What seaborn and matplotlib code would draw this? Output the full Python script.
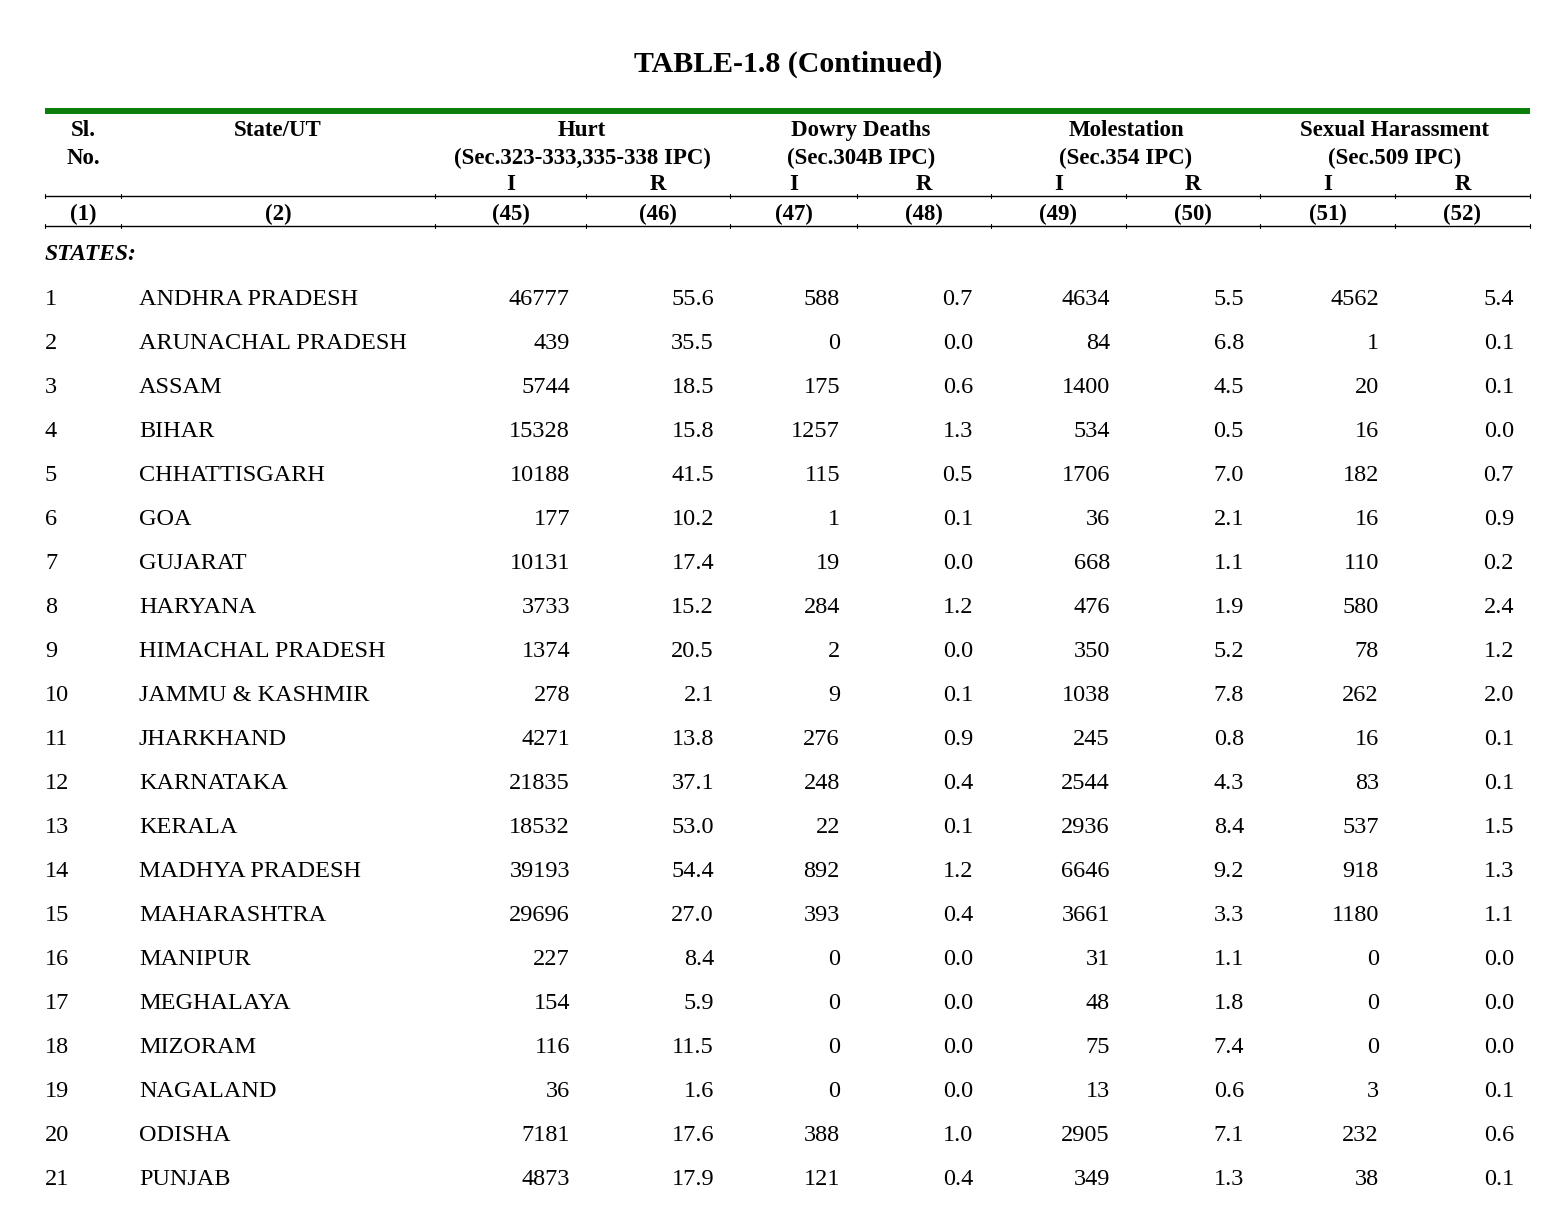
import numpy as np
import pandas as pd
import matplotlib
matplotlib.use("Agg")
import matplotlib.pyplot as plt
import seaborn as sns

title = "TABLE-1.8 (Continued)"
sl_no = list(range(1, 22))
states = ["ANDHRA PRADESH", "ARUNACHAL PRADESH", "ASSAM", "BIHAR", "CHHATTISGARH",
          "GOA", "GUJARAT", "HARYANA", "HIMACHAL PRADESH", "JAMMU & KASHMIR",
          "JHARKHAND", "KARNATAKA", "KERALA", "MADHYA PRADESH", "MAHARASHTRA",
          "MANIPUR", "MEGHALAYA", "MIZORAM", "NAGALAND", "ODISHA", "PUNJAB"]
hurt_i = [46777, 439, 5744, 15328, 10188, 177, 10131, 3733, 1374, 278, 4271,
          21835, 18532, 39193, 29696, 227, 154, 116, 36, 7181, 4873]
hurt_r = [55.6, 35.5, 18.5, 15.8, 41.5, 10.2, 17.4, 15.2, 20.5, 2.1, 13.8,
          37.1, 53.0, 54.4, 27.0, 8.4, 5.9, 11.5, 1.6, 17.6, 17.9]
dowry_i = [588, 0, 175, 1257, 115, 1, 19, 284, 2, 9, 276,
           248, 22, 892, 393, 0, 0, 0, 0, 388, 121]
dowry_r = [0.7, 0.0, 0.6, 1.3, 0.5, 0.1, 0.0, 1.2, 0.0, 0.1, 0.9,
           0.4, 0.1, 1.2, 0.4, 0.0, 0.0, 0.0, 0.0, 1.0, 0.4]
molest_i = [4634, 84, 1400, 534, 1706, 36, 668, 476, 350, 1038, 245,
            2544, 2936, 6646, 3661, 31, 48, 75, 13, 2905, 349]
molest_r = [5.5, 6.8, 4.5, 0.5, 7.0, 2.1, 1.1, 1.9, 5.2, 7.8, 0.8,
            4.3, 8.4, 9.2, 3.3, 1.1, 1.8, 7.4, 0.6, 7.1, 1.3]
harass_i = [4562, 1, 20, 16, 182, 16, 110, 580, 78, 262, 16,
            83, 537, 918, 1180, 0, 0, 0, 3, 232, 38]
harass_r = [5.4, 0.1, 0.1, 0.0, 0.7, 0.9, 0.2, 2.4, 1.2, 2.0, 0.1,
            0.1, 1.5, 1.3, 1.1, 0.0, 0.0, 0.0, 0.1, 0.6, 0.1]

groups = ["Hurt", "Dowry Deaths", "Molestation", "Sexual Harassment"]
sections = ["(Sec.323-333,335-338 IPC)", "(Sec.304B IPC)", "(Sec.354 IPC)", "(Sec.509 IPC)"]
col_nums = ["(1)", "(2)", "(45)", "(46)", "(47)", "(48)", "(49)", "(50)", "(51)", "(52)"]

df = pd.DataFrame({"sl": sl_no, "state": states,
                   "hurt_i": hurt_i, "hurt_r": hurt_r,
                   "dowry_i": dowry_i, "dowry_r": dowry_r,
                   "molest_i": molest_i, "molest_r": molest_r,
                   "harass_i": harass_i, "harass_r": harass_r})
num_cols = ["hurt_i", "hurt_r", "dowry_i", "dowry_r",
            "molest_i", "molest_r", "harass_i", "harass_r"]

sns.set_theme(style="white")
plt.rcParams['font.family'] = ['Liberation Serif', 'DejaVu Serif']
plt.rcParams['text.color'] = 'black'

fig = plt.figure(figsize=(15.68, 12.06), dpi=100)
ax = fig.add_axes([0, 0, 1, 1])
ax.set_xlim(0, 1568)
ax.set_ylim(1206, 0)
ax.axis("off")

# column layout (pixels)
bounds = [45, 121, 435, 586, 730, 857, 991, 1126, 1260, 1395, 1530]
centers = [(a + b) / 2 for a, b in zip(bounds[:-1], bounds[1:])]
right_edges = [570, 714, 840, 973, 1110, 1244, 1379, 1514]
group_x = [582, 861, 1126, 1395]

hdr = dict(fontsize=16.5, fontweight="bold", ha="center", va="baseline", color="black")
ax.text(788, 72, title, fontsize=21.5, fontweight="bold", ha="center",
        va="baseline", color="black")

# rules
ax.plot([45, 1530], [111, 111], color="#0a7d0a", lw=4.3, solid_capstyle="butt")
for y in [196, 226]:
    ax.plot([45, 1530], [y, y], color="black", lw=1.0)
    for b in bounds:
        ax.plot([b, b], [y - 2, y + 2], color="black", lw=0.8)

ax.text(centers[0], 136, "Sl.", **hdr)
ax.text(centers[0], 164, "No.", **hdr)
ax.text(centers[1], 136, "State/UT", **hdr)
for k, (g, s) in enumerate(zip(groups, sections)):
    ci, cr = centers[2 + 2 * k], centers[3 + 2 * k]
    ax.text(group_x[k], 136, g, **hdr)
    ax.text(group_x[k], 164, s, **hdr)
    ax.text(ci, 190, "I", **hdr)
    ax.text(cr, 190, "R", **hdr)
for c, lab in zip(centers, col_nums):
    ax.text(c, 220, lab, **hdr)

ax.text(45, 260, "STATES:", fontsize=17, fontweight="bold", style="italic",
        ha="left", va="baseline", color="black")

fs = 17.5
for i, row in df.iterrows():
    yb = 297 + 44 * i + 8
    ax.text(45, yb, str(row["sl"]), fontsize=fs, ha="left", va="baseline", color="black")
    ax.text(139, yb, row["state"], fontsize=fs, ha="left", va="baseline", color="black")
    for x, c in zip(right_edges, num_cols):
        v = row[c]
        txt = "{:.1f}".format(v) if c.endswith("_r") else str(int(v))
        ax.text(x, yb, txt, fontsize=fs, ha="right", va="baseline", color="black")

fig.savefig("out.png", dpi=100, facecolor="white")
